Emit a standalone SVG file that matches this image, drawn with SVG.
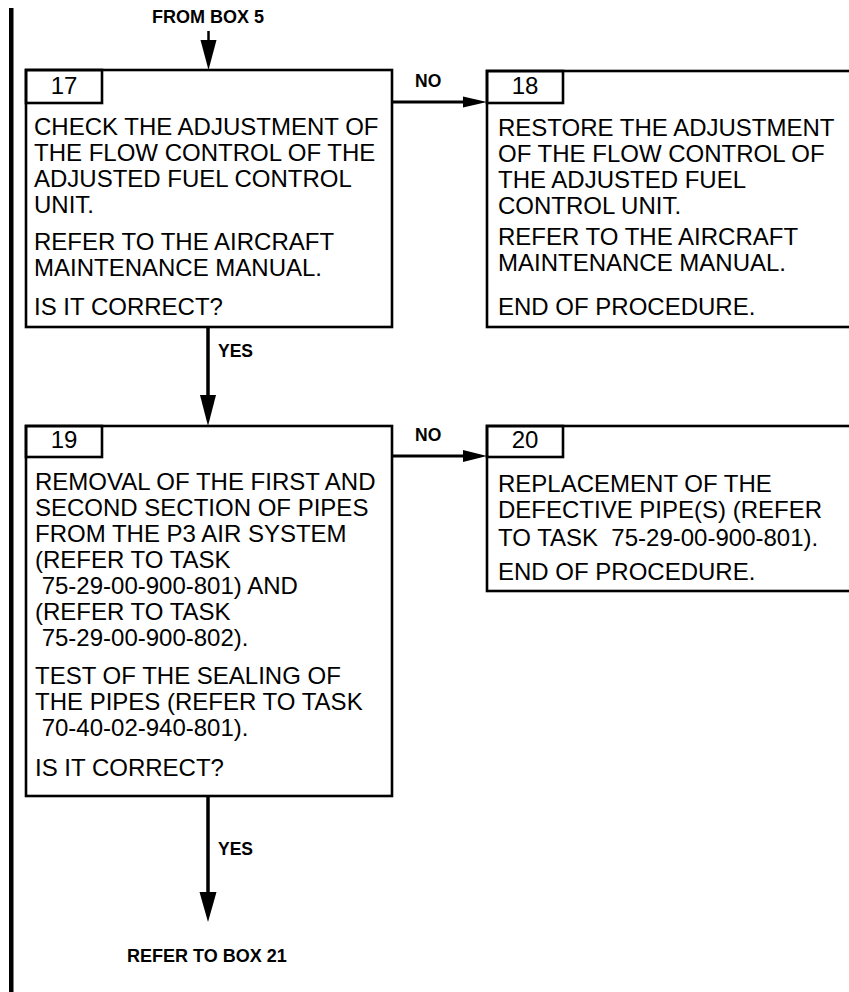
<svg xmlns="http://www.w3.org/2000/svg" width="849" height="992" viewBox="0 0 849 992">
<style>
.box{fill:#fff;stroke:#000;stroke-width:2.6}
.num{fill:none;stroke:#000;stroke-width:2.6}
.t{font-family:"Liberation Sans",Arial,sans-serif;font-size:24px;fill:#000;white-space:pre}
.n{font-family:"Liberation Sans",Arial,sans-serif;font-size:24px;fill:#000;text-anchor:middle}
.lbl{font-family:"Liberation Sans",Arial,sans-serif;font-size:17.5px;font-weight:bold;fill:#000}
.ln{stroke:#000;fill:none}
</style>
<rect width="849" height="992" fill="#fff"/>
<rect x="9" y="8" width="4.5" height="984" fill="#000"/>
<g id="connectors">
  <line class="ln" x1="208.5" y1="31" x2="208.5" y2="42" stroke-width="2.5"/>
  <polygon points="200.5,40 216.5,40 208.5,70"/>
  <line class="ln" x1="392" y1="102" x2="465" y2="102" stroke-width="3"/>
  <polygon points="463,96.5 487,102 463,107.5"/>
  <line class="ln" x1="208" y1="327" x2="208" y2="398" stroke-width="3.5"/>
  <polygon points="200,395 216,395 208,426"/>
  <line class="ln" x1="392" y1="456" x2="465" y2="456" stroke-width="3"/>
  <polygon points="463,450 487,456 463,462"/>
  <line class="ln" x1="208" y1="796" x2="208" y2="895" stroke-width="3.5"/>
  <polygon points="199.5,892 216.5,892 208,922"/>
</g>
<g id="labels">
  <text class="lbl" x="152" y="23" style="font-size:18px">FROM BOX 5</text>
  <text class="lbl" x="415" y="87">NO</text>
  <text class="lbl" x="218" y="357">YES</text>
  <text class="lbl" x="415" y="441">NO</text>
  <text class="lbl" x="218" y="855">YES</text>
  <text class="lbl" x="127" y="962" style="font-size:18px">REFER TO BOX 21</text>
</g>
<g id="box17">
  <rect class="box" x="26" y="70" width="366" height="257"/>
  <rect class="num" x="26" y="70" width="76" height="33"/>
  <text class="n" x="64" y="94">17</text>
  <text class="t" x="34" y="135">CHECK THE ADJUSTMENT OF</text>
  <text class="t" x="34" y="161">THE FLOW CONTROL OF THE</text>
  <text class="t" x="34" y="187">ADJUSTED FUEL CONTROL</text>
  <text class="t" x="34" y="213">UNIT.</text>
  <text class="t" x="34" y="250">REFER TO THE AIRCRAFT</text>
  <text class="t" x="34" y="276">MAINTENANCE MANUAL.</text>
  <text class="t" x="34" y="315">IS IT CORRECT?</text>
</g>
<g id="box18">
  <rect class="box" x="487" y="71" width="370" height="256"/>
  <rect class="num" x="487" y="71" width="76" height="32"/>
  <text class="n" x="525" y="94">18</text>
  <text class="t" x="498" y="136">RESTORE THE ADJUSTMENT</text>
  <text class="t" x="498" y="162">OF THE FLOW CONTROL OF</text>
  <text class="t" x="498" y="188">THE ADJUSTED FUEL</text>
  <text class="t" x="498" y="214">CONTROL UNIT.</text>
  <text class="t" x="498" y="245">REFER TO THE AIRCRAFT</text>
  <text class="t" x="498" y="271">MAINTENANCE MANUAL.</text>
  <text class="t" x="498" y="315">END OF PROCEDURE.</text>
</g>
<g id="box19">
  <rect class="box" x="26" y="426" width="366" height="370"/>
  <rect class="num" x="26" y="426" width="76" height="31"/>
  <text class="n" x="64" y="448">19</text>
  <text class="t" x="35" y="490">REMOVAL OF THE FIRST AND</text>
  <text class="t" x="35" y="516">SECOND SECTION OF PIPES</text>
  <text class="t" x="35" y="542">FROM THE P3 AIR SYSTEM</text>
  <text class="t" x="35" y="568">(REFER TO TASK</text>
  <text class="t" x="35" y="594"> 75-29-00-900-801) AND</text>
  <text class="t" x="35" y="620">(REFER TO TASK</text>
  <text class="t" x="35" y="646"> 75-29-00-900-802).</text>
  <text class="t" x="35" y="684">TEST OF THE SEALING OF</text>
  <text class="t" x="35" y="710">THE PIPES (REFER TO TASK</text>
  <text class="t" x="35" y="736"> 70-40-02-940-801).</text>
  <text class="t" x="35" y="776">IS IT CORRECT?</text>
</g>
<g id="box20">
  <rect class="box" x="487" y="426" width="370" height="165"/>
  <rect class="num" x="487" y="426" width="76" height="31"/>
  <text class="n" x="525" y="448">20</text>
  <text class="t" x="498" y="492">REPLACEMENT OF THE</text>
  <text class="t" x="498" y="518">DEFECTIVE PIPE(S) (REFER</text>
  <text class="t" x="498" y="546">TO TASK  75-29-00-900-801).</text>
  <text class="t" x="498" y="580">END OF PROCEDURE.</text>
</g>
</svg>
